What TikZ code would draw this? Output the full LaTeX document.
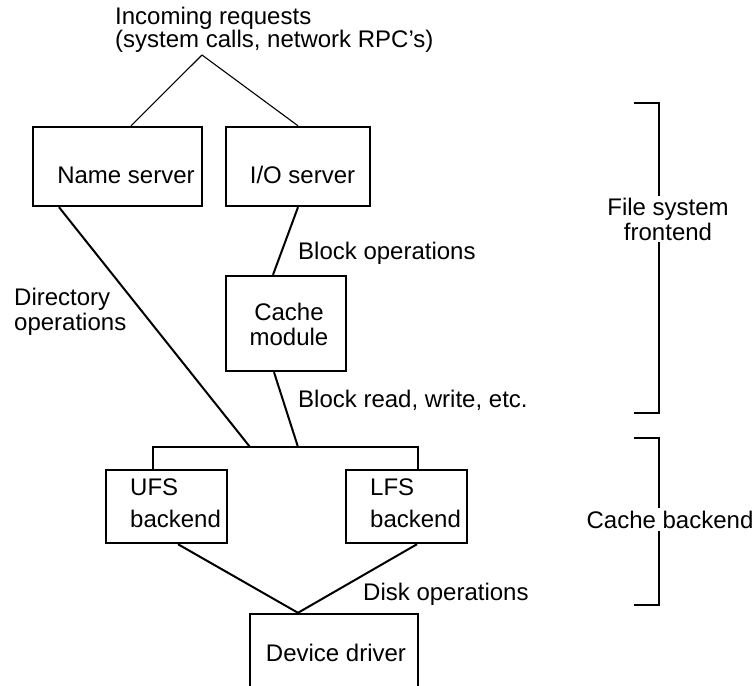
\documentclass[tikz,border=0pt]{standalone}
\usepackage{fontspec}
\setmainfont{Liberation Sans}
\usetikzlibrary{positioning}
\tikzset{>=latex}

\begin{document}
\begin{tikzpicture}[x=1pt,y=-1pt,font=\fontsize{24}{25}\selectfont]
    \clip (0,0) rectangle (754,685);
    \begin{scope}[every node/.style={rectangle,draw,line width=2.4pt,inner sep=0pt}]
      \node[minimum width=169,minimum height=79] (name) at (117.5,166.5) {};
      \node[minimum width=144,minimum height=79] (io) at (298,166.5) {};
      \node[minimum width=120,minimum height=95] (cache) at (286,323.5) {};
      \node[minimum width=121,minimum height=73] (ufs) at (166.5,506.5) {};
      \node[minimum width=121,minimum height=73] (lfs) at (406.5,506.5) {};
      \node[minimum width=168,minimum height=106] (dev) at (334,667) {};
    \end{scope}
    \coordinate (apex) at (202,55);
    \coordinate (dirend) at (250,447);
    \coordinate (blkend) at (298,447);
    \coordinate (busl) at ([xshift=-13.5]ufs.north |- dirend);
    \coordinate (busr) at ([xshift=11.5]lfs.north |- dirend);
    \begin{scope}[every edge/.style={draw=black, line width=1.1pt}]
      \path (apex) edge ([xshift=13.5]name.north);
      \path (apex) edge (io.north);
    \end{scope}
    \draw[line width=1.1pt] ([xshift=-13.5]ufs.north) -- (busl) -- (busr) -- ([xshift=11.5]lfs.north);
    \begin{scope}[every edge/.style={draw=black, line width=2pt}]
      \path ([xshift=-58.5]name.south) edge (dirend);
      \path (io.south) edge ([xshift=-13]cache.north);
      \path ([xshift=-12]cache.south) edge (blkend);
      \path ([xshift=11.5]ufs.south) edge ([xshift=-36]dev.north);
      \path ([xshift=10.5]lfs.south) edge ([xshift=-36]dev.north);
    \end{scope}
    % brackets on the right
    \draw[line width=1.5pt] (634,103) -| (659,413) -- (634,413);
    \draw[line width=1.5pt] (634,438) -| (659,605) -- (634,605);
    \begin{scope}[every node/.style={inner sep=0pt}]
      \node[anchor=base west, align=left, font=\fontsize{24}{20}\selectfont] (req) at (115,47.5) {Incoming requests\\(system calls, network RPC's)};
      \node[anchor=base] (nametxt) at (126,183) {Name server};
      \node[anchor=base] (iotxt) at (302.5,183) {I/O server};
      \node[anchor=base, align=center] (cachetxt) at (289,345) {Cache\\module};
      \node[anchor=base west, align=left, font=\fontsize{24}{32}\selectfont] (ufstxt) at (130,527) {UFS\\backend};
      \node[anchor=base west, align=left, font=\fontsize{24}{32}\selectfont] (lfstxt) at (370,527) {LFS\\backend};
      \node[anchor=base] (devtxt) at (336,661) {Device driver};
      \node[anchor=base west, align=left] (dirlbl) at (14,330) {Directory\\operations};
      \node[anchor=base west] (blkopslbl) at (298,259) {Block operations};
      \node[anchor=base west] (blkrwlbl) at (298,407) {Block read, write, etc.};
      \node[anchor=base west] (disklbl) at (363,600) {Disk operations};
      \node[anchor=base, align=center, fill=white, inner sep=2pt] (fslbl) at (668,240) {File system\\frontend};
      \node[anchor=base, fill=white, inner sep=3pt] (cblbl) at (670,528) {Cache backend};
    \end{scope}
\end{tikzpicture}
\end{document}
